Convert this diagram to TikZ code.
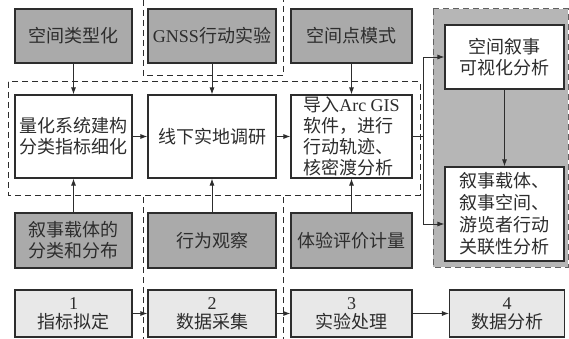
\documentclass[tikz,border=0pt]{standalone}
\usepackage{fontspec}
\setmainfont{Liberation Serif}
\newfontfamily\cjk{Noto Sans CJK SC}
\usetikzlibrary{arrows.meta}
\definecolor{dg}{RGB}{170,170,170}
\definecolor{pg}{RGB}{182,182,182}
\definecolor{lg}{RGB}{232,232,232}
\definecolor{ln}{RGB}{45,45,45}
\begin{document}
\begin{tikzpicture}[x=1pt,y=-1pt,
  box/.style={draw=ln, line width=1.1pt, inner sep=1pt, align=center,
    font=\cjk\fontsize{18}{21}\selectfont, text=ln},
  darkbox/.style={box, fill=dg},
  whitebox/.style={box, fill=white},
  stagebox/.style={box, fill=lg, font=\cjk\fontsize{18}{19}\selectfont},
  arr/.style={-{Latex[length=7pt,width=5pt]}, line width=0.9pt, draw=ln},
  dsh/.style={dash pattern=on 6pt off 4pt, line width=1pt, draw=ln},
]
\useasboundingbox (0,0) rectangle (569,339);
% right panel
\fill[pg] (433,9) rectangle (568,267);
\draw[dsh, draw=ln!75] (433,9) rectangle (568,267);
% dashed frames
\draw[dsh] (8,82) rectangle (420,195);
\draw[dsh] (143,0) -- (143,76) -- (283,76) -- (283,0);
\draw[dsh] (143,197) -- (143,339);
\draw[dsh] (283,197) -- (283,339);
% top row
\node[darkbox, minimum width=117pt, minimum height=54pt] (g1) at (73.5,36) {空间类型化};
\node[darkbox, minimum width=128pt, minimum height=54pt] (g2) at (212,36) {{\rmfamily GNSS}行动实验};
\node[darkbox, minimum width=121pt, minimum height=54pt] (g3) at (351.5,36) {空间点模式};
% middle row
\node[whitebox, minimum width=117pt, minimum height=83pt] (m1) at (73.5,136.5) {量化系统建构\\分类指标细化};
\node[whitebox, minimum width=128pt, minimum height=83pt] (m2) at (212,136.5) {线下实地调研};
\node[whitebox, minimum width=121pt, minimum height=83pt, align=left, inner sep=0pt] (m3) at (351.5,136.5) {导入{\rmfamily Arc GIS}\\软件，进行\\行动轨迹、\\核密渡分析};
% lower gray row
\node[darkbox, minimum width=117pt, minimum height=55pt] (b1) at (73.5,240.5) {叙事载体的\\分类和分布};
\node[darkbox, minimum width=128pt, minimum height=55pt] (b2) at (212,240.5) {行为观察};
\node[darkbox, minimum width=121pt, minimum height=55pt] (b3) at (351.5,240.5) {体验评价计量};
% stage row
\node[stagebox, minimum width=117pt, minimum height=47pt] (s1) at (73.5,313.5) {{\rmfamily 1}\\指标拟定};
\node[stagebox, minimum width=128pt, minimum height=47pt] (s2) at (212,313.5) {{\rmfamily 2}\\数据采集};
\node[stagebox, minimum width=121pt, minimum height=47pt] (s3) at (351.5,313.5) {{\rmfamily 3}\\实验处理};
\node[stagebox, minimum width=115pt, minimum height=47pt] (s4) at (507,313.5) {{\rmfamily 4}\\数据分析};
% right panel boxes
\node[whitebox, minimum width=119pt, minimum height=64pt] (r1) at (504.5,57) {空间叙事\\可视化分析};
\node[whitebox, minimum width=119pt, minimum height=94pt, font=\cjk\fontsize{18}{22}\selectfont] (r2) at (504.5,214) {叙事载体、\\叙事空间、\\游览者行动\\关联性分析};
% arrows
\draw[arr] (g1) -- (m1);
\draw[arr] (g2) -- (m2);
\draw[arr] (g3) -- (m3);
\draw[arr] (b1) -- (m1);
\draw[arr] (b2) -- (m2);
\draw[arr] (b3) -- (m3);
\draw[arr] (m1) -- (m2);
\draw[arr] (m2) -- (m3);
\coordinate (j) at (423,136.5);
\draw[line width=0.9pt, draw=ln] (m3.east) -- (j);
\draw[arr] (j) |- (r1.west);
\draw[arr] (j) |- ([yshift=-10pt]r2.west);
\draw[arr] (r1) -- (r2);
\draw[arr] (s1) -- (s2);
\draw[arr] (s2) -- (s3);
\draw[arr] (s3) -- (s4);
\end{tikzpicture}
\end{document}
